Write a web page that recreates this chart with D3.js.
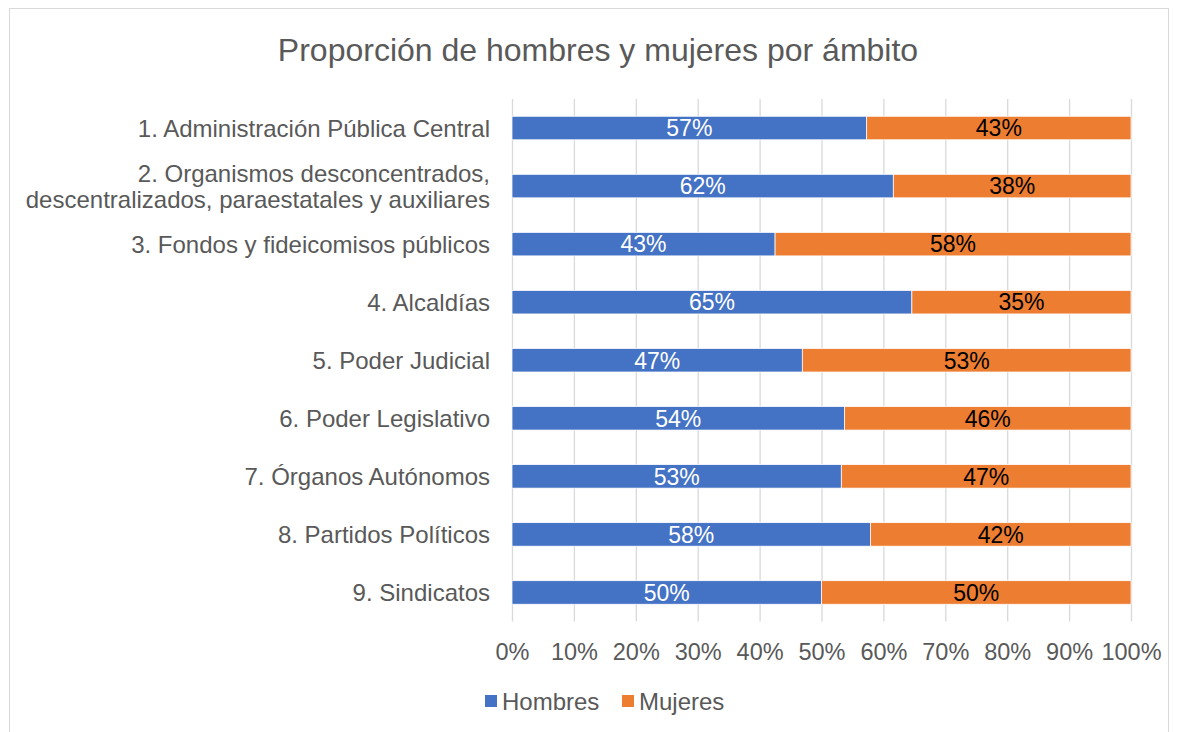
<!DOCTYPE html>
<html>
<head>
<meta charset="utf-8">
<script src="https://cdn.jsdelivr.net/npm/d3@7"></script>
<style>
  html, body { margin: 0; padding: 0; background: #fff; }
  svg { display: block; font-family: "Liberation Sans", Arial, sans-serif; }
  .grid line { stroke: #d9d9d9; stroke-width: 1.3; }
  .grid path { display: none; }
  .axis path, .axis line { display: none; }
  .axis text { fill: #595959; font-size: 23.5px; }
</style>
</head>
<body>
<svg id="chart" width="1178" height="732"></svg>
<script>
const categories = [
  ['1. Administración Pública Central'],
  ['2. Organismos desconcentrados,', 'descentralizados, paraestatales y auxiliares'],
  ['3. Fondos y fideicomisos públicos'],
  ['4. Alcaldías'],
  ['5. Poder Judicial'],
  ['6. Poder Legislativo'],
  ['7. Órganos Autónomos'],
  ['8. Partidos Políticos'],
  ['9. Sindicatos']
]
// percentage of men; women are the rest up to 100
const hombres = [57.3, 61.6, 42.5, 64.6, 46.9, 53.7, 53.2, 57.9, 50]
const mujeres = hombres.map((h) => 100 - h)
const seriesNames = ['Hombres', 'Mujeres']
const colors = ['#4472c4', '#ed7d31']
const xTicks = [0, 10, 20, 30, 40, 50, 60, 70, 80, 90, 100]

const svg = d3.select('#chart')
const width = 1178
const margin = { top: 99, left: 512, right: 47, bottom: 110 }
const plotBottom = 621.5

svg.append('rect')
  .attr('x', 9.5).attr('y', 8.5)
  .attr('width', 1159).attr('height', 740)
  .attr('fill', '#fff').attr('stroke', '#d9d9d9')

svg.append('text')
  .attr('x', 598).attr('y', 61)
  .attr('text-anchor', 'middle')
  .attr('fill', '#595959')
  .style('font-size', '32px')
  .text('Proporción de hombres y mujeres por ámbito')

const x = d3.scaleLinear().domain([0, 100]).range([margin.left, width - margin.right])
const y = d3.scaleBand()
  .domain(categories.map((d, i) => i))
  .range([margin.top, plotBottom])
  .paddingInner(0.595)
  .paddingOuter(0.2975)

svg.append('g')
  .attr('class', 'grid')
  .attr('transform', `translate(0,${plotBottom})`)
  .call(d3.axisBottom(x).tickValues(xTicks).tickSize(-(plotBottom - margin.top)).tickFormat(''))

svg.append('g')
  .attr('class', 'axis')
  .attr('transform', `translate(0,${plotBottom + 19})`)
  .call(d3.axisBottom(x).tickValues(xTicks).tickSize(0).tickFormat((d) => d + '%'))

const stack = d3.stack().keys([0, 1]).value((d, k) => d[k])
const rows = hombres.map((h, i) => [h, mujeres[i]])
const layers = stack(rows)

const g = svg.append('g')
layers.forEach((layer, k) => {
  g.selectAll(null)
    .data(layer)
    .join('rect')
    .attr('x', (d) => x(d[0]))
    .attr('y', (d, i) => y(i))
    .attr('width', (d) => x(d[1]) - x(d[0]))
    .attr('height', y.bandwidth())
    .attr('fill', colors[k])
    .attr('stroke', '#fff')
    .attr('stroke-width', 0.75)

  g.selectAll(null)
    .data(layer)
    .join('text')
    .attr('x', (d) => (x(d[0]) + x(d[1])) / 2)
    .attr('y', (d, i) => y(i) + y.bandwidth() / 2)
    .attr('dy', '0.36em')
    .attr('text-anchor', 'middle')
    .attr('fill', k === 0 ? '#fff' : '#000')
    .style('font-size', '23px')
    .text((d) => Math.round(d[1] - d[0]) + '%')
})

// category labels
const lab = svg.append('g')
categories.forEach((lines, i) => {
  const cy = y(i) + y.bandwidth() / 2
  const t = lab.append('text')
    .attr('text-anchor', 'end')
    .attr('fill', '#595959')
    .style('font-size', '24px')
  lines.forEach((line, j) => {
    t.append('tspan')
      .attr('x', 490)
      .attr('y', cy + (j - (lines.length - 1) / 2) * 26)
      .attr('dy', '0.36em')
      .text(line)
  })
})

// legend
const legend = svg.append('g').attr('transform', 'translate(0,701)')
const legendX = [485, 622]
seriesNames.forEach((name, k) => {
  legend.append('rect')
    .attr('x', legendX[k]).attr('y', -6)
    .attr('width', 12).attr('height', 12)
    .attr('fill', colors[k])
  legend.append('text')
    .attr('x', legendX[k] + 17).attr('y', 0)
    .attr('dy', '0.36em')
    .attr('fill', '#595959')
    .style('font-size', '24px')
    .text(name)
})
</script>
</body>
</html>
